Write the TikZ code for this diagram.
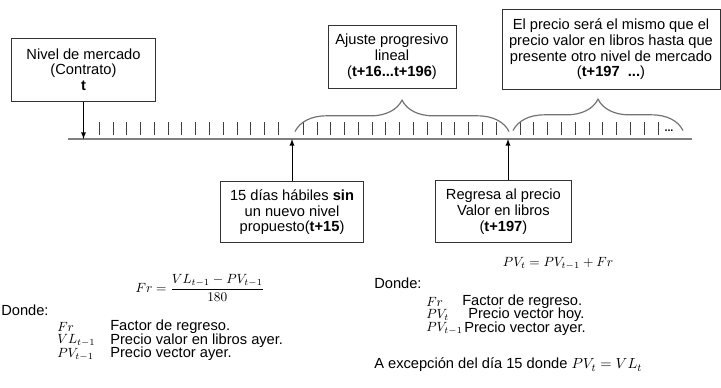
\documentclass[tikz,border=0pt]{standalone}
\usepackage{fontspec}
\setmainfont{Liberation Sans}
\usetikzlibrary{decorations.pathreplacing}

\tikzstyle{line} = [draw]
\tikzstyle{box} = [draw=black!80, line width=0.75pt, align=center, inner sep=0pt, font=\fontsize{11}{11.9}\selectfont]
\tikzstyle{tick} = [draw=black!75, line width=0.75pt]
\tikzstyle{axis} = [draw=black!50, line width=1.5pt]
\tikzstyle{brace} = [draw=black!55, line width=0.9pt, decorate, decoration={brace, amplitude=23.5pt}]
\tikzstyle{arrow} = [draw, -latex, line width=0.75pt]
\tikzstyle{txt} = [anchor=west, inner sep=0pt, font=\fontsize{11}{11.9}\selectfont]
\tikzstyle{sym} = [anchor=west, inner sep=0pt, font=\fontsize{9.8}{10}\selectfont]

\begin{document}
\begin{tikzpicture}[x=0.75pt,y=0.75pt]
\useasboundingbox (0,0) rectangle (721,-387);
%\draw[help lines] (0,0) grid (721,-387);
%time line
\draw[axis] (68,-139) -- (692,-139);
\coordinate (t0) at (83.5,-139);
\coordinate (t15) at (292,-139);
\coordinate (t197) at (508,-139);

%days
\foreach \i in {0,...,13} \draw[tick] (99.3+13.77*\i,-122) -- ++(0,-12.5);
\foreach \i in {0,...,14} \draw[tick] (303.3+13.77*\i,-122) -- ++(0,-12.5);
\foreach \i in {0,...,10} \draw[tick] (520+13.83*\i,-122) -- ++(0,-12.5);
\node[font=\bfseries\fontsize{8}{8}\selectfont, inner sep=0pt] (dots) at (669,-131) {...};

%braces
\draw[brace] (295,-131.5) -- (509,-131.5);% t+16 ... t+196
\draw[brace] (513,-130.5) -- (683,-130.5);% t+197 ...

%boxes
\node[box, minimum width=107.7pt, minimum height=47pt] (nivel) at (83.5,-69.7)
  {Nivel de mercado\\(Contrato)\\\textbf{t}};
\node[box, minimum width=96pt, minimum height=47.6pt] (ajuste) at (392,-57)
  {Ajuste progresivo\\lineal\\(\textbf{t+16...t+196})};
\node[box, minimum width=163.5pt, minimum height=60.2pt] (mismo) at (611,-49.2)
  {El precio será el mismo que el\\precio valor en libros hasta que\\presente otro nivel de mercado\\(\textbf{t+197 \ ...})};
\node[box, minimum width=107pt, minimum height=46.1pt] (dias) at (292,-212.2)
  {15 días hábiles \textbf{sin}\\un nuevo nivel\\propuesto(\textbf{t+15})};
\node[box, minimum width=101.5pt, minimum height=47pt] (regresa) at (503.4,-211.4)
  {Regresa al precio\\Valor en libros\\(\textbf{t+197})};

%arrows
\draw[arrow] (nivel.south) -- (t0);
\draw[arrow] (dias.north) -- (t15);
\draw[arrow] (regresa.north -| t197) -- (t197);

%factor de regreso
\node[font=\fontsize{10}{11}\selectfont] (fr) at (200,-287.7)
  {$\displaystyle Fr=\frac{VL_{t-1}-PV_{t-1}}{180}$};
\node[txt] (donde1) at (1,-310) {Donde:};
\node[sym] (s11) at (57,-327) {$Fr$};
\node[txt] (d11) at (110,-327) {Factor de regreso.};
\node[sym] (s12) at (57,-340.5) {$VL_{t-1}$};
\node[txt] (d12) at (110,-340.5) {Precio valor en libros ayer.};
\node[sym] (s13) at (57,-354) {$PV_{t-1}$};
\node[txt] (d13) at (110,-354) {Precio vector ayer.};

%precio vector
\node[font=\fontsize{10}{11}\selectfont] (pv) at (558,-263)
  {$PV_t=PV_{t-1}+Fr$};
\node[txt] (donde2) at (374,-283.3) {Donde:};
\node[sym] (s21) at (426,-301.7) {$Fr$};
\node[txt] (d21) at (462,-301.7) {Factor de regreso.};
\node[sym] (s22) at (426,-315) {$PV_t$};
\node[txt] (d22) at (468,-315) {Precio vector hoy.};
\node[sym] (s23) at (426,-328.5) {$PV_{t-1}$};
\node[txt] (d23) at (464,-328.5) {Precio vector ayer.};
\node[txt] (excep) at (374,-365) {A excepción del día 15 donde $PV_t=VL_t$};
\end{tikzpicture}
\end{document}
